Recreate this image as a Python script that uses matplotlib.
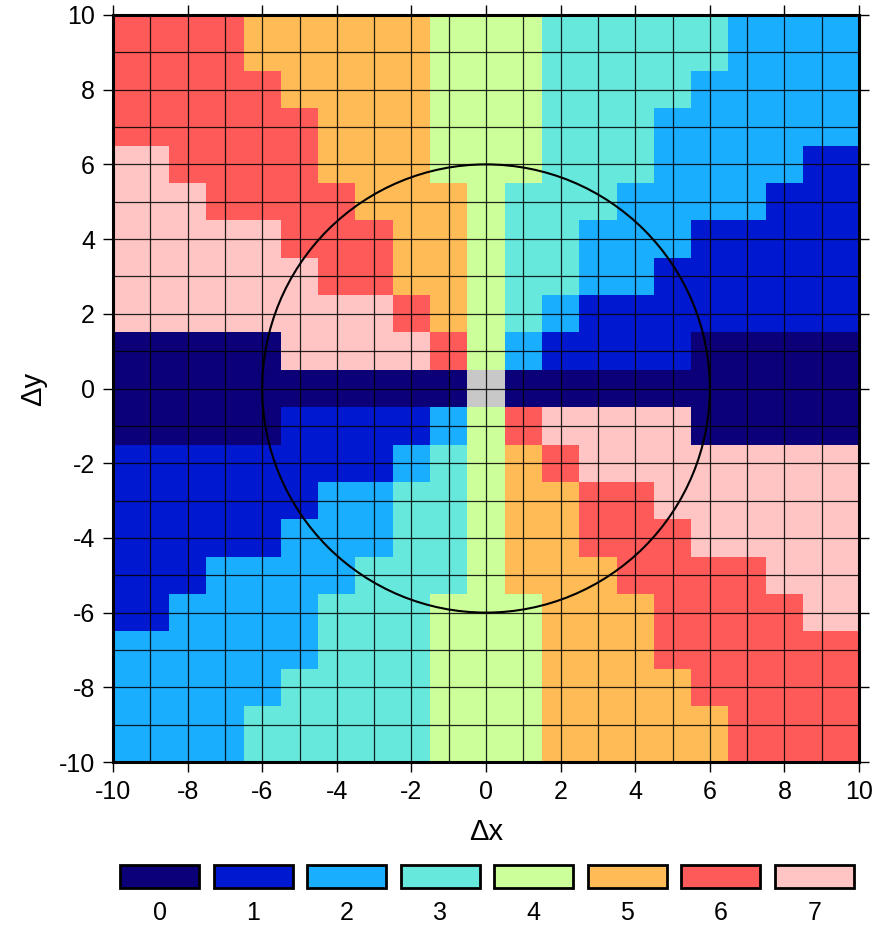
import numpy as np
import matplotlib
matplotlib.use('Agg')
import matplotlib.pyplot as plt
from matplotlib.colors import ListedColormap
from matplotlib.patches import Rectangle, Circle

plt.rcParams['font.family'] = ['Liberation Sans', 'DejaVu Sans']
plt.rcParams['axes.unicode_minus'] = False

# direction class per grid cell, rows from dy=10 (top) down to dy=-10, '-' = centre cell
rows = [
    "666655555444333332222",
    "666655555444333332222",
    "666665555444333322222",
    "666666555444333222222",
    "776666555444333222211",
    "777666655543332222111",
    "777776665543322211111",
    "777777665543322111111",
    "777777776543211111111",
    "000007777642111100000",
    "0000000000-0000000000",
    "000001111246777700000",
    "111111112345677777777",
    "111111223345566777777",
    "111112223345566677777",
    "111222233345556666777",
    "112222333444555666677",
    "222222333444555666666",
    "222223333444555566666",
    "222233333444555556666",
    "222233333444555556666",
]
dx = np.arange(-10, 11)
dy = np.arange(10, -11, -1)
classes = [0, 1, 2, 3, 4, 5, 6, 7]
colors = ['#0c0078', '#0018d0', '#1aaeff', '#66e8dd',
          '#ccff99', '#ffbb55', '#ff5a5a', '#ffc4c4']
centre_color = '#c8c8c8'
radius = 6

grid = np.array([[np.nan if c == '-' else float(c) for c in r] for r in rows])
grid = np.ma.masked_invalid(grid)

fig = plt.figure(figsize=(8.81, 9.25), dpi=100)
ax = fig.add_axes([113/881, 1-762/925, 746/881, 747/925])
ax.set_facecolor(centre_color)

cmap = ListedColormap(colors)
xe = np.append(dx - 0.5, dx[-1] + 0.5)
ye = np.append(dy + 0.5, dy[-1] - 0.5)
ax.pcolormesh(xe, ye, grid, cmap=cmap, vmin=-0.5, vmax=7.5, shading='flat')

for v in dx:
    ax.axvline(v, color='black', lw=0.9, alpha=0.85, zorder=2)
    ax.axhline(v, color='black', lw=0.9, alpha=0.85, zorder=2)

ax.add_patch(Circle((0, 0), radius, fill=False, ec='black', lw=1.5, zorder=3))

ax.set_xlim(-10, 10)
ax.set_ylim(-10, 10)
ticks = np.arange(-10, 11, 2)
ax.set_xticks(ticks)
ax.set_yticks(ticks)
ax.tick_params(direction='out', length=7, width=1, labelsize=18,
               top=True, right=True, pad=6)
for s in ax.spines.values():
    s.set_linewidth(2.2)
    s.set_zorder(4)
ax.set_xlabel('\u0394x', fontsize=21, labelpad=10)
ax.set_ylabel('\u0394y', fontsize=21, labelpad=8)

# discrete legend bar
lax = fig.add_axes([113/881, 1-888/925, 748/881, 23/925])
lax.set_xlim(-0.5, 7.5)
lax.set_ylim(0, 1)
lax.axis('off')
for k, c in zip(classes, colors):
    lax.add_patch(Rectangle((k - 0.42, 0), 0.84, 1, fc=c, ec='black', lw=2,
                            clip_on=False))
    lax.text(k, -0.55, str(k), ha='center', va='top', fontsize=18)

fig.savefig('out.png', dpi=100)
